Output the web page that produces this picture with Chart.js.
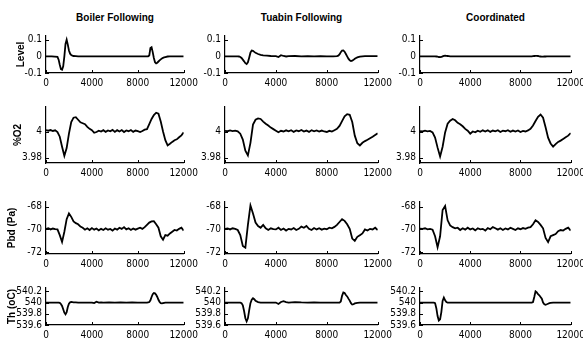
<!DOCTYPE html>
<html>
<head>
<meta charset="utf-8">
<script src="https://cdn.jsdelivr.net/npm/chart.js@4.4.0/dist/chart.umd.min.js"></script>
<style>
  body { margin: 0; background: #fff; }
  #fig { position: relative; width: 583px; height: 344px; overflow: hidden; background: #fff; }
  #fig canvas { position: absolute; }
  .ctitle { position: absolute; top: 12px; font: bold 10px "Liberation Sans", Arial, sans-serif; text-align: center; color: #000; white-space: nowrap; }
</style>
</head>
<body>
<div id="fig"></div>
<script>
// ---- data ----
const columnTitles = ['Boiler Following', 'Tuabin Following', 'Coordinated'];
const rowLabels = ['Level', '%O2', 'Pbd (Pa)', 'Th (oC)'];

const xTicks = [0, 4000, 8000, 12000];
const levelTicks = [-0.1, 0, 0.1];
const o2Ticks = [3.98, 4];
const pbdTicks = [-72, -70, -68];
const thTicks = [539.6, 539.8, 540, 540.2];

// time for the smooth signals (Level, Th)
const tFine = [
  0, 500, 1000,
  1100, 1200, 1300, 1400, 1500, 1600, 1700, 1800, 1900, 2000, 2100, 2200, 2300, 2400,
  2600, 2800, 3000, 3300, 3600, 4000,
  4200, 4400, 4600, 4800, 5000,
  5500, 6000, 6500, 7000, 7500, 8000, 8500,
  8800, 8900, 9000, 9100, 9200, 9300, 9400, 9500, 9600, 9700, 9800, 9900, 10000, 10100, 10200, 10300, 10400,
  10600, 10800, 11000, 11500, 12000
];

// time for the noisy signals (%O2, Pbd)
const tCoarse = [
  0, 200, 400, 600, 800, 1000, 1200, 1400, 1600, 1800,
  2000, 2200, 2400, 2600, 2800, 3000, 3200, 3400, 3600, 3800,
  4000, 4200, 4400, 4600, 4800, 5000, 5200, 5400, 5600, 5800,
  6000, 6200, 6400, 6600, 6800, 7000, 7200, 7400, 7600, 7800,
  8000, 8200, 8400, 8600, 8800, 9000, 9200, 9400, 9600, 9800,
  10000, 10200, 10400, 10600, 10800, 11000, 11200, 11400, 11600, 11800,
  12000
];

const levelBoiler = [
  0, 0, -0.003,
  -0.02, -0.05, -0.077, -0.08, -0.06, 0.0, 0.075, 0.1, 0.07, 0.035, 0.016, 0.008, 0.004, 0.002,
  0.001, 0, 0, 0, 0, 0,
  0, 0, 0, 0, 0,
  0, 0, 0, 0, 0, 0, 0,
  0, 0, 0.005, 0.05, 0.055, 0.025, -0.01, -0.035, -0.042, -0.038, -0.031, -0.024, -0.018, -0.013, -0.009, -0.006, -0.004,
  -0.001, 0, 0, 0, 0
];
const levelTurbine = [
  0, 0, 0,
  -0.001, -0.004, -0.01, -0.02, -0.03, -0.041, -0.046, -0.036, -0.008, 0.022, 0.035, 0.033, 0.027, 0.021,
  0.014, 0.009, 0.006, 0.004, 0.002, 0.001,
  -0.004, 0.007, 0.002, -0.001, 0.001,
  0.002, 0, 0.001, 0, 0.001, 0, 0,
  0.001, 0.004, 0.012, 0.025, 0.035, 0.036, 0.028, 0.014, 0.0, -0.014, -0.024, -0.028, -0.026, -0.021, -0.015, -0.01, -0.006,
  -0.002, 0, 0.001, 0.001, 0.001
];
const levelCoord = [
  0, 0, 0,
  0, 0, -0.001, -0.002, -0.004, -0.005, -0.004, 0, 0.003, 0.004, 0.003, 0.002, 0.001, 0,
  0, 0, 0, 0, 0, 0,
  0, 0, 0, 0, 0,
  0, 0, 0, 0, 0, 0, 0,
  0, 0, 0.001, 0.002, 0.003, 0.003, 0.002, 0, -0.001, -0.002, -0.002, -0.001, -0.001, 0, 0, 0, 0,
  0, 0, 0, 0, 0
];

const o2Boiler = [
  4.0012, 4.0008, 4.0013, 4.0006, 4.0011, 3.9998, 3.9962, 3.9885, 3.9815, 3.9875,
  3.9985, 4.0075, 4.0108, 4.0112, 4.0092, 4.0072, 4.0065, 4.0058, 4.0038, 4.0022,
  4.0012, 3.9992, 3.9998, 4.0008, 4.0001, 4.0012, 3.9999, 4.001, 4.0003, 4.0014,
  3.9999, 4.0012, 4.0002, 4.0013, 3.9998, 4.001, 4.0004, 4.0013, 3.9999, 4.0009,
  4.0004, 3.9998, 4.0006, 4.0016, 4.002, 4.0058, 4.0098, 4.0128, 4.0146, 4.0138,
  4.0078, 4.0002, 3.9935, 3.9895, 3.9908, 3.9922, 3.9935, 3.9942, 3.9958, 3.9972,
  3.9995
];
const o2Turbine = [
  4.0007, 4.0004, 4.001, 4.0005, 4.0009, 4.0003, 3.9985, 3.994, 3.9855, 3.9818,
  3.9915, 4.0055, 4.0092, 4.0102, 4.0098, 4.0078, 4.0062, 4.0048, 4.0032, 4.002,
  4.0008, 3.9996, 4.0007, 4.0002, 4.0011, 4.0003, 4.0012, 3.9999, 4.001, 4.0004,
  4.0013, 4.0001, 4.0009, 3.9999, 4.0012, 4.0003, 4.001, 4.0001, 4.0009, 4.0002,
  3.9998, 4.0007, 4.0001, 4.0012, 4.0022, 4.0045, 4.0082, 4.0118, 4.0135, 4.013,
  4.0075, 3.997, 3.9912, 3.9895, 3.9915, 3.9928, 3.9938, 3.995, 3.9962, 3.9975,
  3.9988
];
const o2Coord = [
  4.0005, 4.0002, 4.0008, 4.0003, 4.0006, 3.9995, 3.9955, 3.9878, 3.981, 3.9885,
  3.9995, 4.0062, 4.0085, 4.0098, 4.0088, 4.0068, 4.0058, 4.0042, 4.0022, 4.0008,
  3.9985, 4.0002, 3.9996, 4.0008, 4.0, 4.0011, 4.0002, 4.0012, 3.9999, 4.0009,
  4.0003, 4.0012, 3.9998, 4.0008, 4.0004, 4.0012, 4.0, 4.0009, 4.0002, 4.001,
  3.9998, 4.0006, 4.0002, 4.001, 4.0022, 4.0048, 4.0082, 4.0115, 4.0132, 4.0108,
  4.0035, 3.9955, 3.991, 3.9886, 3.9905, 3.9922, 3.9932, 3.9945, 3.9958, 3.997,
  3.999
];

const pbdBoiler = [
  -69.95, -69.9, -70.0, -69.92, -69.97, -70.0, -70.5, -71.1, -70.2, -69.1,
  -68.6, -68.9, -69.3, -69.45, -69.55, -69.75, -69.85, -70.02, -69.9, -70.05,
  -69.88, -70.02, -69.92, -70.08, -69.95, -70.05, -69.9, -70.02, -69.96, -70.1,
  -69.92, -70.02, -69.85, -69.95, -69.8, -70.0, -69.9, -70.05, -69.92, -70.02,
  -69.93, -69.85, -69.95, -69.8, -69.6, -69.4, -69.3, -69.28, -69.55, -69.85,
  -70.6, -70.9, -70.5, -70.55, -70.35, -70.2, -70.05, -70.1, -69.95, -69.85,
  -70.1
];
const pbdTurbine = [
  -69.95, -69.92, -70.0, -69.9, -69.95, -70.05, -70.5, -71.45, -71.6, -69.6,
  -67.9, -68.6, -69.4, -69.7, -69.85, -69.6, -69.9, -70.05, -69.9, -69.98,
  -70.0, -69.85, -70.05, -69.92, -70.1, -69.95, -70.0, -69.88, -70.05, -69.95,
  -69.75, -69.85, -69.7, -69.95, -70.05, -69.88, -70.0, -69.9, -70.02, -69.93,
  -69.98, -69.85, -69.9, -69.78, -69.6, -69.35, -69.1, -69.25, -69.55, -69.95,
  -70.8, -71.0, -70.65, -70.5, -70.35, -70.0, -70.1, -69.95, -70.0, -69.85,
  -70.05
];
const pbdCoord = [
  -69.93, -69.95, -69.9, -70.0, -69.95, -70.02, -70.6, -71.55, -70.6, -68.3,
  -67.95, -69.2, -69.65, -69.8, -69.9, -69.85, -70.05, -69.9, -70.02, -69.85,
  -70.0, -69.92, -70.08, -69.9, -70.0, -69.95, -70.1, -69.88, -69.98, -69.8,
  -69.9, -70.02, -69.9, -70.05, -69.92, -70.0, -69.85, -69.95, -70.05, -69.9,
  -69.98, -69.88, -69.95, -69.85, -69.8, -69.55, -69.2, -69.35, -69.6, -69.9,
  -70.75, -71.1, -70.6, -70.5, -70.4, -70.15, -70.05, -70.1, -69.95, -69.85,
  -70.1
];

const thBoiler = [
  540, 540, 540,
  540, 539.995, 539.975, 539.94, 539.88, 539.82, 539.79, 539.83, 539.92, 539.98, 540.005, 540.01, 540.008, 540.005,
  540.003, 540, 540, 540, 540, 540,
  539.99, 540.015, 540.0, 540.004, 540,
  540.002, 540, 540.001, 540, 540.002, 540, 540,
  540, 540.002, 540.01, 540.04, 540.1, 540.15, 540.17, 540.165, 540.14, 540.1, 540.05, 540.01, 539.99, 539.985, 539.99, 539.995, 540,
  540, 540, 540, 540, 540
];
const thTurbine = [
  540, 540, 540,
  540, 540, 539.99, 539.95, 539.85, 539.72, 539.665, 539.72, 539.86, 539.99, 540.05, 540.077, 540.06, 540.03,
  540.008, 540, 539.998, 540, 540, 540,
  539.975, 540.01, 540.025, 540.01, 540,
  540.008, 540.002, 540, 540.003, 540, 540, 540,
  540, 540, 540, 540.02, 540.12, 540.18, 540.17, 540.135, 540.11, 540.07, 540.035, 539.99, 539.965, 539.97, 539.985, 539.99, 539.995,
  540, 540, 540, 540, 540
];
const thCoord = [
  540, 540, 540,
  540, 539.99, 539.9, 539.76, 539.68, 539.7, 539.83, 540.03, 540.09, 540.04, 540.01, 540, 540, 540,
  540, 540, 540, 540, 540, 540,
  540, 540, 540, 540, 540,
  540, 540, 540, 540, 540, 540, 540,
  540, 540, 540.01, 540.1, 540.2, 540.18, 540.15, 540.13, 540.1, 540.07, 540.0, 539.97, 539.962, 539.97, 539.98, 539.99, 539.995,
  540, 540, 540, 540, 540
];

// ---- layout ----
const colBox = [[46, 184], [225, 378], [420, 571]];
const rowBox = [[32, 73], [103, 163], [198, 254], [284, 325]];
const rowMin = [-0.1, 3.976, -72.15, 539.6];
const rowMax = [0.122, 4.019, -67.6, 540.26];
const rowTicks = [levelTicks, o2Ticks, pbdTicks, thTicks];
const titleOffset = [15, 12, 6, 6];

const AXW = 46, PADT = 6, PADR = 18, XAH = 18;
const tickFont = { family: '"Liberation Sans Narrow", "DejaVu Sans Condensed", "Liberation Sans", Arial, sans-serif', size: 10 };
const fig = document.getElementById('fig');

const innerTicks = {
  id: 'innerTicks',
  afterDraw(chart) {
    const { ctx, chartArea: a, scales: { x, y } } = chart;
    ctx.save();
    ctx.strokeStyle = '#000';
    ctx.lineWidth = 1;
    ctx.beginPath();
    x.ticks.forEach(tk => {
      const px = Math.round(x.getPixelForValue(tk.value)) + 0.5;
      ctx.moveTo(px, a.bottom);
      ctx.lineTo(px, a.bottom - 3);
    });
    y.ticks.forEach(tk => {
      const py = Math.round(y.getPixelForValue(tk.value)) + 0.5;
      ctx.moveTo(a.left, py);
      ctx.lineTo(a.left + 3, py);
    });
    ctx.stroke();
    ctx.restore();
  }
};

function makePanel(ci, ri, xs, ys) {
  const [l, r] = colBox[ci];
  const [t, b] = rowBox[ri];
  const cv = document.createElement('canvas');
  cv.width = r - l + AXW + PADR;
  cv.height = b - t + PADT + XAH;
  cv.style.left = (l - AXW) + 'px';
  cv.style.top = (t - PADT) + 'px';
  fig.appendChild(cv);

  new Chart(cv, {
    type: 'line',
    data: {
      datasets: [{
        data: xs.map((x, i) => ({ x: x, y: ys[i] })),
        borderColor: '#000',
        borderWidth: 1.8,
        pointRadius: 0,
        tension: 0,
        fill: false
      }]
    },
    options: {
      responsive: false,
      animation: false,
      events: [],
      layout: { padding: { top: PADT, right: PADR, left: 0, bottom: 0 } },
      plugins: { legend: { display: false }, tooltip: { enabled: false } },
      scales: {
        x: {
          type: 'linear',
          min: 0,
          max: 12000,
          afterBuildTicks: s => { s.ticks = xTicks.map(v => ({ value: v })); },
          afterFit: s => { s.height = XAH; },
          grid: { display: false, drawTicks: false },
          border: { color: '#000', width: 1.2 },
          ticks: { padding: 4, maxRotation: 0, autoSkip: false, color: '#000', font: tickFont, callback: v => String(v) }
        },
        y: {
          type: 'linear',
          min: rowMin[ri],
          max: rowMax[ri],
          afterBuildTicks: s => { s.ticks = rowTicks[ri].map(v => ({ value: v })); },
          afterFit: s => { s.width = AXW; },
          grid: { display: false, drawTicks: false },
          border: { color: '#000', width: 1.2 },
          ticks: { padding: 4, autoSkip: false, color: '#000', font: tickFont, callback: v => String(+v.toFixed(2)) },
          title: {
            display: ci === 0,
            text: rowLabels[ri],
            color: '#000',
            font: { family: '"Liberation Sans", Arial, sans-serif', size: 10, weight: 'bold' },
            padding: { top: titleOffset[ri], bottom: 0 }
          }
        }
      }
    },
    plugins: [innerTicks]
  });
}

columnTitles.forEach((txt, ci) => {
  const d = document.createElement('div');
  d.className = 'ctitle';
  d.textContent = txt;
  d.style.left = colBox[ci][0] + 'px';
  d.style.width = (colBox[ci][1] - colBox[ci][0]) + 'px';
  fig.appendChild(d);
});

const series = [
  [tFine, [levelBoiler, levelTurbine, levelCoord]],
  [tCoarse, [o2Boiler, o2Turbine, o2Coord]],
  [tCoarse, [pbdBoiler, pbdTurbine, pbdCoord]],
  [tFine, [thBoiler, thTurbine, thCoord]]
];

series.forEach(([xs, cols], ri) => {
  cols.forEach((ys, ci) => makePanel(ci, ri, xs, ys));
});
</script>
</body>
</html>
